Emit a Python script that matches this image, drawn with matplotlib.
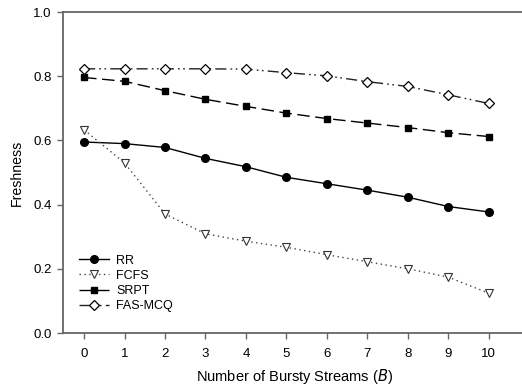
import matplotlib
matplotlib.use("Agg")
import matplotlib.pyplot as plt

plt.rcParams['font.family'] = ['Liberation Sans', 'DejaVu Sans']

streams = [0, 1, 2, 3, 4, 5, 6, 7, 8, 9, 10]
rr = [0.595, 0.590, 0.578, 0.544, 0.518, 0.485, 0.465, 0.445, 0.423, 0.394, 0.377]
fcfs = [0.633, 0.530, 0.371, 0.309, 0.286, 0.267, 0.244, 0.222, 0.200, 0.174, 0.124]
srpt = [0.796, 0.784, 0.755, 0.728, 0.706, 0.685, 0.668, 0.654, 0.640, 0.624, 0.612]
fas_mcq = [0.823, 0.823, 0.823, 0.823, 0.822, 0.811, 0.801, 0.783, 0.768, 0.742, 0.715]
y_ticks = [0.0, 0.2, 0.4, 0.6, 0.8, 1.0]

fig = plt.figure(figsize=(5.22, 3.88), dpi=100)
ax = fig.add_axes([63/522, 55/388, 1 - 63/522 + 0.01, 321/388])

lw = 1.0
ax.plot(streams, rr, color='black', linestyle='-', lw=lw, marker='o',
        markersize=5.5, markerfacecolor='black', label='RR')
ax.plot(streams, fcfs, color='#444444', linestyle=(0, (1, 2.5)), lw=lw, marker='v',
        markersize=5.5, markerfacecolor='white', markeredgecolor='#333333',
        markeredgewidth=0.8, label='FCFS')
ax.plot(streams, srpt, color='black', linestyle=(0, (9, 4)), lw=lw, marker='s',
        markersize=5, markerfacecolor='black', label='SRPT')
ax.plot(streams, fas_mcq, color='#222222', linestyle=(0, (8, 3, 1.2, 2.5, 1.2, 3)), lw=lw,
        marker='D', markersize=5, markerfacecolor='white', markeredgecolor='black',
        markeredgewidth=0.9, label='FAS-MCQ')

ax.set_xlim(-0.52, 10.95)
ax.set_ylim(0.0, 1.0)
ax.set_xticks(streams)
ax.set_yticks(y_ticks)
ax.set_yticklabels([f"{v:.1f}" for v in y_ticks])

spine_color = '#666666'
for side in ['left', 'top', 'bottom']:
    ax.spines[side].set_color(spine_color)
    ax.spines[side].set_linewidth(1.3)
ax.spines['right'].set_visible(False)
ax.tick_params(axis='both', direction='out', length=4, width=1.0,
               color=spine_color, labelsize=9.5, pad=4)
ax.tick_params(axis='x', pad=7)

ax.set_xlabel('Number of Bursty Streams ($\\it{B}$)', fontsize=10.5, labelpad=5)
ax.set_ylabel('Freshness', fontsize=10.2, labelpad=7)

ax.legend(loc='lower left', bbox_to_anchor=(0.015, 0.038), frameon=False, fontsize=9,
          handlelength=2.4, handletextpad=0.6, labelspacing=0.25, borderaxespad=0.3)

fig.savefig('out.png', dpi=100)
